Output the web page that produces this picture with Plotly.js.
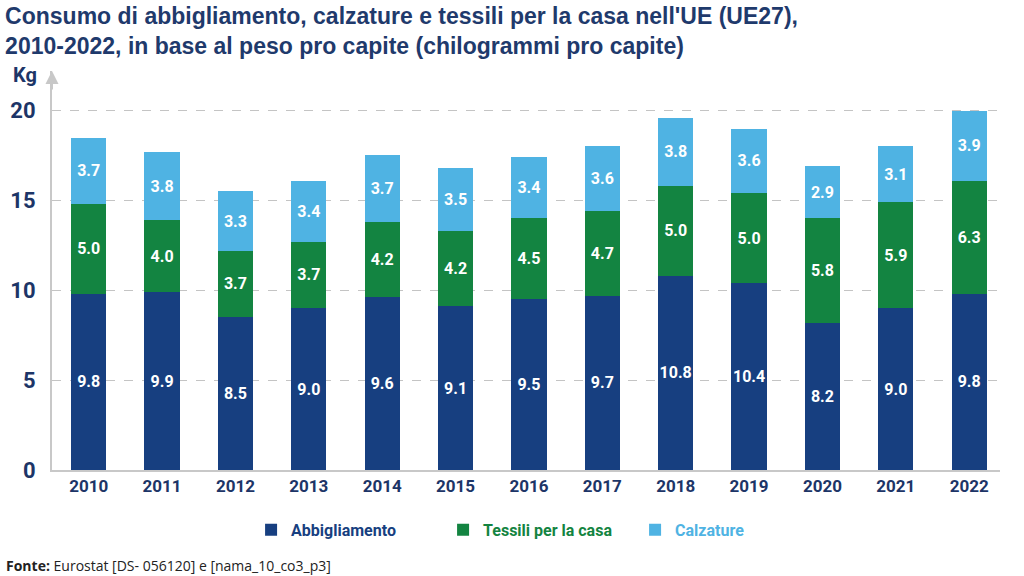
<!DOCTYPE html>
<html><head><meta charset="utf-8">
<script src="https://cdn.plot.ly/plotly-3.0.1.min.js"></script>
<style>html,body{margin:0;padding:0;background:#fff}#chart{width:1024px;height:576px}</style>
</head><body><div id="chart"></div>
<script>
const years = ['2010','2011','2012','2013','2014','2015','2016','2017','2018','2019','2020','2021','2022'];
const abbigliamento = [9.8, 9.9, 8.5, 9.0, 9.6, 9.1, 9.5, 9.7, 10.8, 10.4, 8.2, 9.0, 9.8];
const tessili = [5.0, 4.0, 3.7, 3.7, 4.2, 4.2, 4.5, 4.7, 5.0, 5.0, 5.8, 5.9, 6.3];
const calzature = [3.7, 3.8, 3.3, 3.4, 3.7, 3.5, 3.4, 3.6, 3.8, 3.6, 2.9, 3.1, 3.9];
const seriesNames = ['Abbigliamento', 'Tessili per la casa', 'Calzature'];
const colors = ['#173f80', '#138441', '#4fb3e3'];

const navy = '#1d3567';
const series = [abbigliamento, tessili, calzature];
const traces = series.map((vals, i) => ({
  type: 'bar', x: years, y: vals,
  name: '<span style="color:' + colors[i] + '">' + seriesNames[i] + '</span>',
  marker: {color: colors[i], line: {width: 0}},
  width: 0.48,
  text: vals.map(v => v.toFixed(1)),
  textposition: 'inside', insidetextanchor: 'middle', constraintext: 'none',
  textfont: {family: 'Roboto, sans-serif', size: 16, color: '#ffffff', weight: 'bold'},
  textangle: 0,
  hoverinfo: 'skip'
}));

const layout = {
  width: 1024, height: 576,
  barmode: 'stack',
  margin: {l: 52, r: 24, t: 71, b: 106},
  paper_bgcolor: '#fff', plot_bgcolor: '#fff',
  title: {
    text: "<b>Consumo di abbigliamento, calzature e tessili per la casa nell'UE (UE27),<br>2010-2022, in base al peso pro capite (chilogrammi pro capite)</b>",
    font: {family: 'Liberation Sans, Arial, sans-serif', size: 23, color: '#1f3a6c'},
    x: 0.005, xanchor: 'left', xref: 'container',
    y: 0.958, yanchor: 'top', yref: 'container'
  },
  xaxis: {
    type: 'category',
    range: [-0.5, 12.42],
    showgrid: false, zeroline: false,
    showline: true, linecolor: '#c8c8c8', linewidth: 2,
    ticks: '', tickfont: {family: 'Roboto, sans-serif', size: 17, color: navy, weight: 'bold'},
    fixedrange: true
  },
  yaxis: {
    range: [0, 22.2],
    tickvals: [0, 5, 10, 15, 20],
    showgrid: true, gridcolor: '#c4c4c4', griddash: 'dash', gridwidth: 1,
    zeroline: false,
    showline: true, linecolor: '#c8c8c8', linewidth: 2,
    ticks: '', ticklabelstandoff: 10,
    tickfont: {family: 'Roboto, sans-serif', size: 22, color: navy, weight: 'bold'},
    fixedrange: true
  },
  showlegend: true,
  legend: {
    orientation: 'h', x: 0.21, xanchor: 'left', y: -0.15, yanchor: 'middle',
    traceorder: 'normal', entrywidth: 147, entrywidthmode: 'pixels',
    font: {family: 'Roboto, sans-serif', size: 16, weight: 'bold'},
    itemclick: false
  },
  annotations: [
    {text: '<b>Kg</b>', xref: 'paper', yref: 'paper', x: -0.043, y: 0.99, xanchor: 'left', yanchor: 'middle', showarrow: false,
     font: {family: 'Roboto, sans-serif', size: 20, color: navy}},
    {text: '', xref: 'paper', yref: 'paper', x: 0, y: 1.0, ax: 0, ay: 20, axref: 'pixel', ayref: 'pixel',
     showarrow: true, arrowhead: 2, arrowsize: 1.3, arrowwidth: 2, arrowcolor: '#c8c8c8'},
    {text: '<b>Fonte:</b> Eurostat [DS- 056120] e [nama_10_co3_p3]', xref: 'paper', yref: 'paper',
     x: -0.051, y: -0.24, xanchor: 'left', yanchor: 'middle', showarrow: false,
     font: {family: 'Open Sans, sans-serif', size: 14, color: '#222'}}
  ]
};
Plotly.newPlot('chart', traces, layout, {displayModeBar: false, staticPlot: true});
</script></body></html>
